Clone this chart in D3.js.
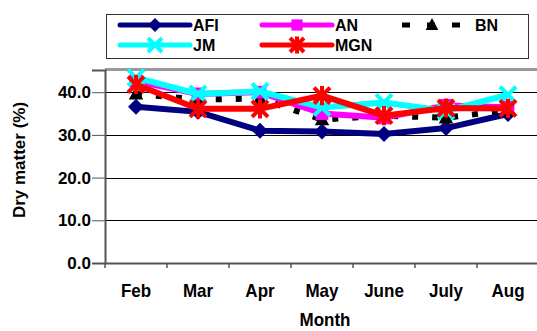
<!DOCTYPE html>
<html><head><meta charset="utf-8">
<script src="https://cdn.jsdelivr.net/npm/d3@7"></script>
<style>body{margin:0;background:#fff}svg{display:block}text{font-family:"Liberation Sans",Arial,sans-serif;font-weight:bold;fill:#000}</style>
</head><body>
<svg id="c" width="537" height="331"></svg>
<script>
const months = ["Feb","Mar","Apr","May","June","July","Aug"];
const AFI = [36.6, 35.4, 31.0, 30.8, 30.2, 31.6, 34.9];
const AN  = [42.6, 39.6, 40.0, 35.0, 34.0, 36.9, 36.5];
const BN  = [39.6, 38.3, 38.5, 33.6, 34.5, 34.0, 35.8];
const JM  = [43.4, 39.6, 40.2, 36.4, 37.6, 35.6, 39.4];
const MGN = [41.8, 36.1, 36.1, 39.2, 34.5, 36.3, 36.2];
const yTicks = [0, 10, 20, 30, 40];

const series = [
  {name:"AFI", values:AFI, color:"#000080", marker:"diamond", dash:null},
  {name:"AN",  values:AN,  color:"#ff00ff", marker:"square", dash:null},
  {name:"BN",  values:BN,  color:"#000000", marker:"triangle", dash:"6,14"},
  {name:"JM",  values:JM,  color:"#00ffff", marker:"x", dash:null},
  {name:"MGN", values:MGN, color:"#ff0000", marker:"star", dash:null}
];
const drawOrder = ["AFI","BN","AN","JM","MGN"];

const svg = d3.select("#c");
const L = 105, R = 539, T = 70, B = 263;
const x = d3.scaleBand().domain(months).range([L, R]);
const y = d3.scaleLinear().domain([0, 45.2]).range([B, T]);

function stext(parent, tx, ty, str, size, sy, anchor, rot) {
  const g = parent.append("g").attr("transform", `translate(${tx},${ty})` + (rot ? ` rotate(${rot})` : "") + ` scale(1,${sy})`);
  g.append("text").attr("text-anchor", anchor).attr("font-size", size).text(str);
  return g;
}

// plot top border
svg.append("line").attr("x1", L).attr("x2", 537).attr("y1", T-0.5).attr("y2", T-0.5)
  .attr("stroke", "#999").attr("stroke-width", 3);

// gridlines
svg.append("g").selectAll("line").data(yTicks.filter(d => d > 0)).join("line")
  .attr("x1", L).attr("x2", 537).attr("y1", d => Math.round(y(d)) + 0.5).attr("y2", d => Math.round(y(d)) + 0.5)
  .attr("stroke", "#000").attr("stroke-width", 1);

// y axis
const ya = svg.append("g").attr("transform", `translate(${L},0)`)
  .call(d3.axisLeft(y).tickValues(yTicks).tickFormat("").tickSize(13));
ya.select(".domain").attr("stroke", "#555").attr("stroke-width", 2);
ya.selectAll(".tick line").attr("stroke", "#555");
yTicks.forEach(v => stext(svg, 91, y(v) + 6, d3.format(".1f")(v), 17, 1.0, "end"));

// x axis
const xa = svg.append("g").attr("transform", `translate(0,${B})`)
  .call(d3.axisBottom(x).tickSize(0).tickFormat(""));
xa.select(".domain").attr("stroke", "#555").attr("stroke-width", 2);
svg.append("g").selectAll("line").data(months).join("line")
  .attr("x1", d => x(d)).attr("x2", d => x(d)).attr("y1", B).attr("y2", B + 5)
  .attr("stroke", "#555").attr("stroke-width", 1.5);
months.forEach(m => stext(svg, x(m) + x.bandwidth()/2, 297, m, 17, 1.1, "middle"));

// axis titles
stext(svg, 325, 326, "Month", 17, 1.08, "middle");
stext(svg, 25, 160, "Dry matter (%)", 17, 1.0, "middle", -90);

function marker(g, type, color, cx, cy, s) {
  if (type === "diamond") {
    g.append("path").attr("d", `M${cx},${cy-s}L${cx+s},${cy}L${cx},${cy+s}L${cx-s},${cy}Z`).attr("fill", color);
  } else if (type === "square") {
    g.append("rect").attr("x", cx-s*0.8).attr("y", cy-s*0.8).attr("width", s*1.6).attr("height", s*1.6).attr("fill", color);
  } else if (type === "triangle") {
    g.append("path").attr("d", `M${cx},${cy-s}L${cx+s*0.9},${cy+s*0.7}L${cx-s*0.9},${cy+s*0.7}Z`).attr("fill", color);
  } else if (type === "x") {
    g.append("path").attr("d", `M${cx-s},${cy-s}L${cx+s},${cy+s}M${cx-s},${cy+s}L${cx+s},${cy-s}`)
      .attr("stroke", color).attr("stroke-width", 4);
  } else if (type === "star") {
    g.append("path").attr("d", `M${cx-s},${cy-s}L${cx+s},${cy+s}M${cx-s},${cy+s}L${cx+s},${cy-s}M${cx},${cy-s*1.2}L${cx},${cy+s*1.2}`)
      .attr("stroke", color).attr("stroke-width", 4);
  }
}

const line = d3.line().x((d, i) => x(months[i]) + x.bandwidth()/2).y(d => y(d));
const plot = svg.append("g");
drawOrder.forEach(n => {
  const s = series.find(q => q.name === n);
  const g = plot.append("g");
  g.append("path").datum(s.values).attr("d", line).attr("fill", "none")
    .attr("stroke", s.color).attr("stroke-width", 6).attr("stroke-dasharray", s.dash);
  s.values.forEach((v, i) => marker(g, s.marker, s.color, x(months[i]) + x.bandwidth()/2, y(v), 8));
});

// legend
const lg = svg.append("g");
lg.append("rect").attr("x", 106.5).attr("y", 14.5).attr("width", 422).attr("height", 44)
  .attr("fill", "#fff").attr("stroke", "#333").attr("stroke-width", 1);
const legPos = {AFI:[120,25], AN:[262,25], BN:[402,25], JM:[120,45], MGN:[262,45]};
series.forEach(s => {
  const [lx, ly] = legPos[s.name];
  const g = lg.append("g");
  const w = s.name === "BN" ? 60 : 70;
  g.append("line").attr("x1", lx).attr("x2", lx + w).attr("y1", ly).attr("y2", ly)
    .attr("stroke", s.color).attr("stroke-width", 5).attr("stroke-linecap", s.dash ? "butt" : "round")
    .attr("stroke-dasharray", s.dash ? "8,17" : null);
  marker(g, s.marker, s.color, lx + w/2, ly, 7);
  stext(g, lx + w + (s.name === "BN" ? 13 : 3), ly + 6, s.name, 16, 1.08, "start");
});
</script>
</body></html>
